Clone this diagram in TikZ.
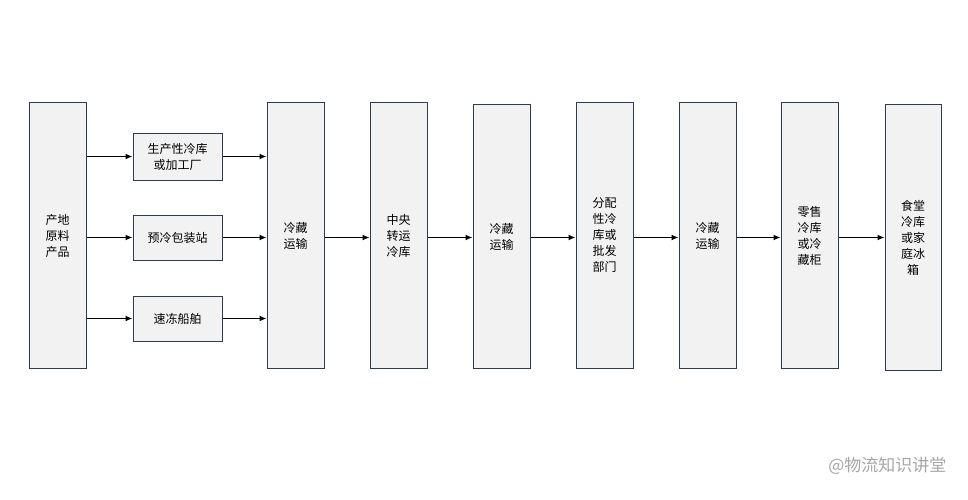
\documentclass[tikz,border=0pt]{standalone}
\usepackage{fontspec}
\setmainfont{Noto Sans CJK SC}
\usetikzlibrary{arrows.meta}
\definecolor{bd}{HTML}{2F3B4F}
\definecolor{fl}{HTML}{F2F2F2}
\begin{document}
\begin{tikzpicture}[x=1pt,y=-1pt,
  box/.style={draw=bd,fill=fl,line width=1pt,font=\fontsize{12}{16}\selectfont,align=center,inner sep=0pt},
  ar/.style={-{Latex[length=7pt,width=6pt]},line width=1.3pt,black}]
\useasboundingbox (0,0) rectangle (968,500);
\newcommand{\bx}[6]{\node[box,minimum width=#4-#2,minimum height=#5-#3] (#1) at ({(#2+#4)/2},{(#3+#5)/2}) {#6};}
\bx{a}{29}{103}{86}{368}{产地\\原料\\产品}
\bx{b1}{133}{133}{222}{180}{生产性冷库\\或加工厂}
\bx{b2}{133}{215}{222}{260}{预冷包装站}
\bx{b3}{133}{296}{222}{341}{速冻船舶}
\bx{c}{267}{103}{324}{368}{冷藏\\运输}
\bx{d}{370}{103}{427}{368}{中央\\转运\\冷库}
\bx{e}{473}{105}{530}{368}{冷藏\\运输}
\bx{f}{576}{103}{633}{368}{分配\\性冷\\库或\\批发\\部门}
\bx{g}{679}{103}{736}{368}{冷藏\\运输}
\bx{h}{781}{103}{838}{368}{零售\\冷库\\或冷\\藏柜}
\bx{i}{885}{105}{941}{370}{食堂\\冷库\\或家\\庭冰\\箱}
\draw[ar] (a.east|-b1.west) -- (b1.west);
\draw[ar] (a.east|-b2.west) -- (b2.west);
\draw[ar] (a.east|-b3.west) -- (b3.west);
\draw[ar] (b1.east) -- (c.west|-b1.east);
\draw[ar] (b2.east) -- (c.west|-b2.east);
\draw[ar] (b3.east) -- (c.west|-b3.east);
\draw[ar] (c.east|-b2.east) -- (d.west|-b2.east);
\draw[ar] (d.east|-b2.east) -- (e.west|-b2.east);
\draw[ar] (e.east|-b2.east) -- (f.west|-b2.east);
\draw[ar] (f.east|-b2.east) -- (g.west|-b2.east);
\draw[ar] (g.east|-b2.east) -- (h.west|-b2.east);
\draw[ar] (h.east|-b2.east) -- (i.west|-b2.east);
\node[text=gray!70,font=\fontsize{17}{20}\selectfont,anchor=east] (w) at (950,466) {@物流知识讲堂};
\end{tikzpicture}
\end{document}
